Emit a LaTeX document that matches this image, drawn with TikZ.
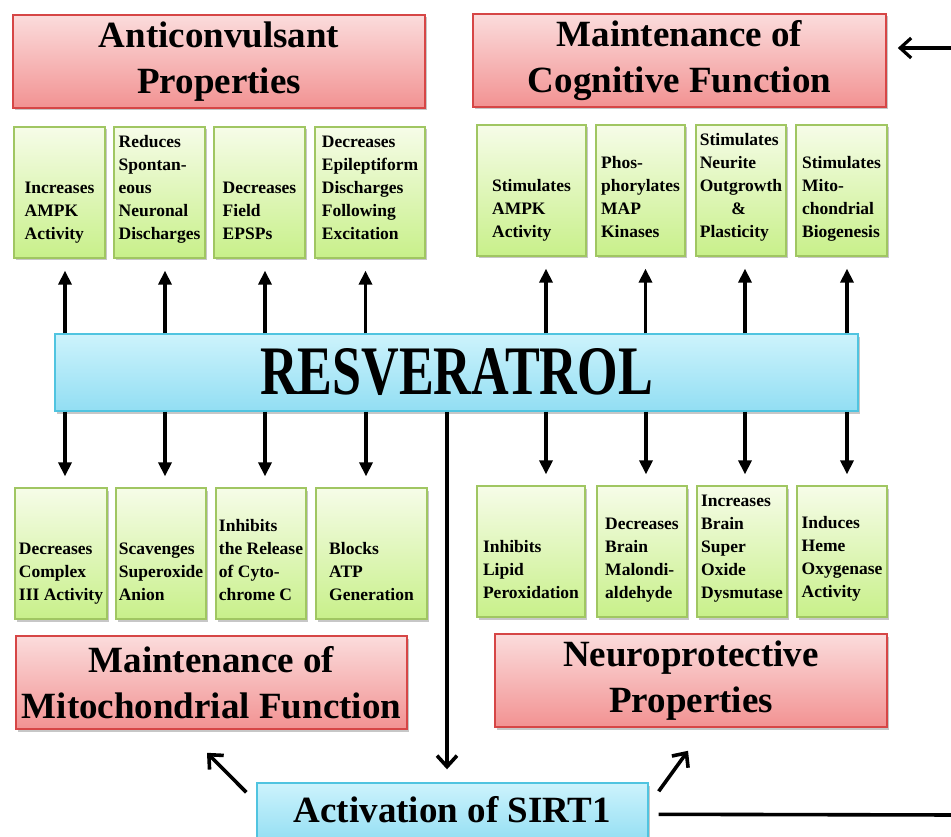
\documentclass[tikz,border=0pt]{standalone}
\usepackage{fontspec}
\setmainfont{Liberation Serif}
\usetikzlibrary{arrows.meta,shadows,calc}

\definecolor{redtop}{RGB}{251,220,220}
\definecolor{redbot}{RGB}{242,146,146}
\definecolor{redline}{RGB}{214,70,70}
\definecolor{grntop}{RGB}{246,252,232}
\definecolor{grnbot}{RGB}{200,240,138}
\definecolor{grnline}{RGB}{160,198,98}
\definecolor{blutop}{RGB}{205,243,252}
\definecolor{blubot}{RGB}{146,222,243}
\definecolor{bluline}{RGB}{80,196,224}

\begin{document}
\begin{tikzpicture}[x=1pt,y=-1pt,
  shadebox/.style={rectangle, inner sep=0pt,
    drop shadow={shadow xshift=1.5pt, shadow yshift=-2.5pt, opacity=0.22, fill=black}},
  titlebox/.style={shadebox, draw=redline, line width=1.6pt, top color=redtop, bottom color=redbot,
    align=center, font=\bfseries\fontsize{37}{46}\selectfont},
  factbox/.style={shadebox, draw=grnline, line width=1.3pt, top color=grntop, bottom color=grnbot,
    minimum height=131pt},
  facttext/.style={anchor=south, inner sep=0pt, align=left,
    font=\bfseries\fontsize{17.5}{23}\selectfont},
  hubbox/.style={shadebox, draw=bluline, line width=1.4pt, top color=blutop, bottom color=blubot},
  link/.style={line width=3.6pt, -{Triangle[length=14pt,width=13pt]}},
  lead/.style={line width=3.6pt, -{Straight Barb[length=11pt,width=20pt]}}
]
\useasboundingbox (0,0) rectangle (951,837);

% category titles
\node[titlebox, minimum width=412pt, minimum height=93pt] (anti) at (219,61.5) {Anticonvulsant\\Properties};
\node[titlebox, minimum width=413pt, minimum height=93pt] (cog) at (679.5,60.5) {Maintenance of\\Cognitive Function};
\node[titlebox, minimum width=391pt, minimum height=93pt] (mito) at (211.5,682.5) {Maintenance of\\Mitochondrial Function};
\node[titlebox, minimum width=392pt, minimum height=93pt] (neuro) at (691,680.5) {Neuroprotective\\Properties};

% central hub
\node[hubbox, minimum width=803pt, minimum height=77pt] (hub) at (456.5,372.5)
  {\bfseries\fontsize{69.5}{70}\selectfont\scalebox{0.75}[1]{RESVERATROL}};

% SIRT1 box
\node[hubbox, minimum width=391pt, minimum height=60pt, text height=25.5pt, text depth=7.5pt] (sirt) at (452.5,813)
  {\bfseries\fontsize{37}{40}\selectfont Activation of SIRT1};

% upper effect boxes
\node[factbox, minimum width=91pt]  (t1) at (59.5,192.5) {};
\node[factbox, minimum width=91pt]  (t2) at (159.5,192.5) {};
\node[factbox, minimum width=91pt]  (t3) at (259.5,192.5) {};
\node[factbox, minimum width=110pt] (t4) at (370,192.5) {};
\node[factbox, minimum width=109pt] (t5) at (531.5,190.5) {};
\node[factbox, minimum width=89pt]  (t6) at (640.5,190.5) {};
\node[factbox, minimum width=90pt]  (t7) at (741,190.5) {};
\node[factbox, minimum width=91pt]  (t8) at (841.5,190.5) {};

% lower effect boxes
\node[factbox, minimum width=92pt]  (b1) at (61,553.5) {};
\node[factbox, minimum width=90pt]  (b2) at (161,553.5) {};
\node[factbox, minimum width=90pt]  (b3) at (261,553.5) {};
\node[factbox, minimum width=111pt] (b4) at (371.5,553.5) {};
\node[factbox, minimum width=108pt] (b5) at (531,551.5) {};
\node[factbox, minimum width=90pt]  (b6) at (642,551.5) {};
\node[factbox, minimum width=90pt]  (b7) at (742,551.5) {};
\node[factbox, minimum width=90pt]  (b8) at (842,551.5) {};

% effect texts, last line set on a common baseline
\node[facttext] (t1x) at ($(t1.south)+(0,-11.6)$) {Increases\\AMPK\\Activity\strut};
\node[facttext] (t2x) at ($(t2.south)+(0,-11.6)$) {Reduces\\Spontan-\\eous\\Neuronal\\Discharges\strut};
\node[facttext] (t3x) at ($(t3.south)+(0,-11.6)$) {Decreases\\Field\\EPSPs\strut};
\node[facttext] (t4x) at ($(t4.south)+(0,-11.6)$) {Decreases\\Epileptiform\\Discharges\\Following\\Excitation\strut};
\node[facttext] (t5x) at ($(t5.south)+(0,-11.6)$) {Stimulates\\AMPK\\Activity\strut};
\node[facttext] (t6x) at ($(t6.south)+(0,-11.6)$) {Phos-\\phorylates\\MAP\\Kinases\strut};
\node[facttext] (t7x) at ($(t7.south)+(0,-11.6)$) {Stimulates\\Neurite\\Outgrowth\\\hspace*{1.8em}\&\\Plasticity\strut};
\node[facttext] (t8x) at ($(t8.south)+(0,-11.6)$) {Stimulates\\Mito-\\chondrial\\Biogenesis\strut};

\node[facttext] (b1x) at ($(b1.south)+(0,-11.6)$) {Decreases\\Complex\\III Activity\strut};
\node[facttext] (b2x) at ($(b2.south)+(0,-11.6)$) {Scavenges\\Superoxide\\Anion\strut};
\node[facttext] (b3x) at ($(b3.south)+(0,-11.6)$) {Inhibits\\the Release\\of Cyto-\\chrome C\strut};
\node[facttext] (b4x) at ($(b4.south)+(0,-11.6)$) {Blocks\\ATP\\Generation\strut};
\node[facttext] (b5x) at ($(b5.south)+(0,-11.6)$) {Inhibits\\Lipid\\Peroxidation\strut};
\node[facttext] (b6x) at ($(b6.south)+(0,-11.6)$) {Decreases\\Brain\\Malondi-\\aldehyde\strut};
\node[facttext] (b7x) at ($(b7.south)+(0,-11.6)$) {Increases\\Brain\\Super\\Oxide\\Dysmutase\strut};
\node[facttext] (b8x) at ($(b8.south)+(0,-13.5)$) {Induces\\Heme\\Oxygenase\\Activity\strut};

% hub to upper effects
\foreach \n/\dx in {t1/5.5,t2/5.5,t3/5.5,t4/-4.5,t5/14.5,t6/5,t7/4,t8/5.5}{
  \coordinate (tip\n) at ($(\n.south)+(\dx,12)$);
  \draw[link] (tip\n |- hub.north) -- (tip\n);
}
% hub to lower effects
\foreach \n/\dx in {b1/4,b2/4,b3/4,b4/-5.5,b5/15,b6/4,b7/3,b8/5}{
  \coordinate (tip\n) at ($(\n.north)+(\dx,-11)$);
  \draw[link] (tip\n |- hub.south) -- (tip\n);
}

% hub to SIRT1 and SIRT1 outputs
\coordinate (tipS) at ($(sirt.north)+(-5.5,-13)$);
\draw[lead] (tipS |- hub.south) -- (tipS);
\draw[lead] ($(sirt.north west)+(-10,10)$) -- ($(mito.south)+(-4.5,23)$);
\draw[lead] ($(sirt.north east)+(10,9)$) -- ($(neuro.south)+(-3,23)$);

% feedback loop along the right edge
\coordinate (loopB) at (958,815);
\coordinate (loopT) at (958,48);
\draw[line width=3.6pt] ($(sirt.north east)+(10,32)$) -- (loopB);
\draw[lead, line width=3.2pt] (loopT) -- ($(cog.east)+(11,-12.5)$);
\end{tikzpicture}
\end{document}
